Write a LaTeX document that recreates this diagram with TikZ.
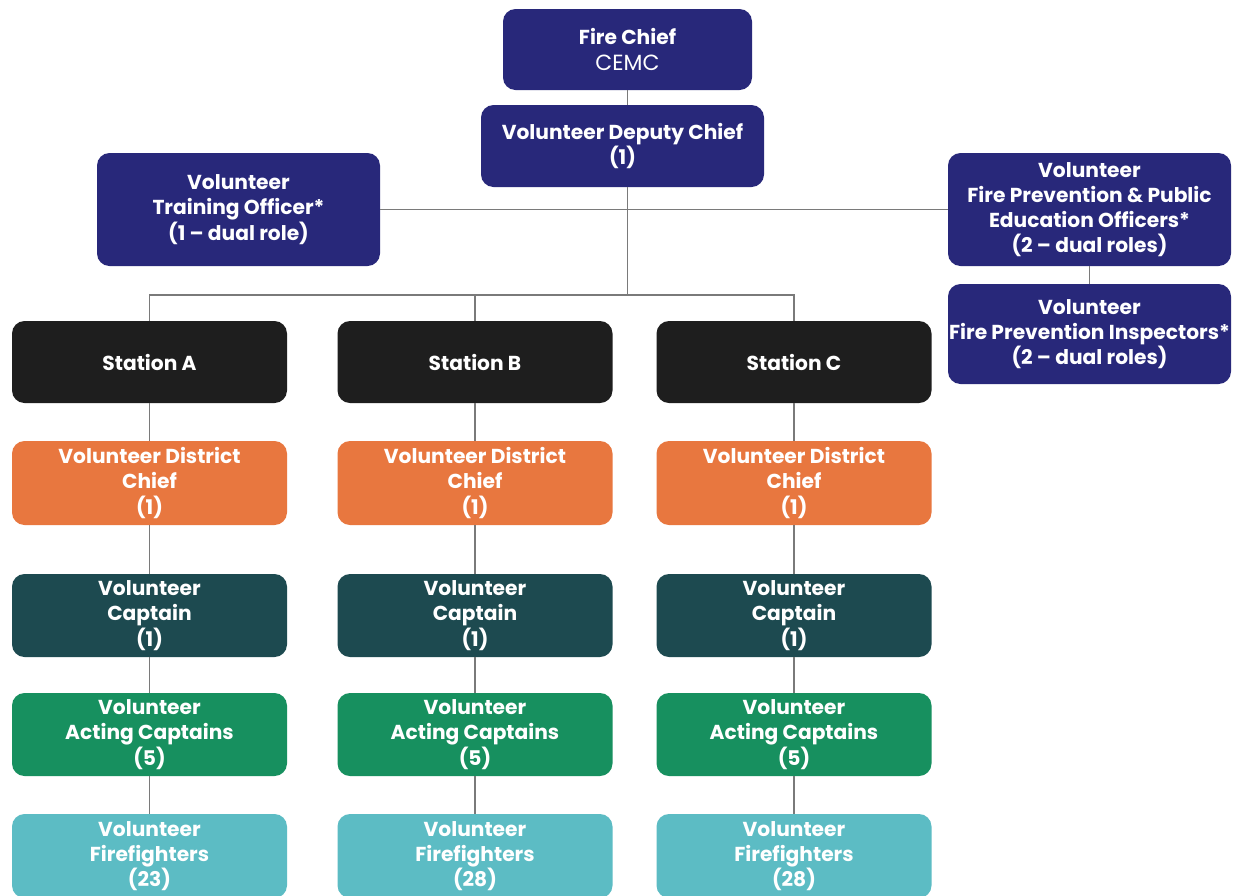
\documentclass[tikz,border=0pt]{standalone}
\usepackage{fontspec}
\setmainfont{Poppins}
\usetikzlibrary{positioning}
\definecolor{navy}{HTML}{28287A}
\definecolor{stationblack}{HTML}{1E1E1E}
\definecolor{districtorange}{HTML}{E8773F}
\definecolor{captainteal}{HTML}{1D4A50}
\definecolor{actinggreen}{HTML}{17905F}
\definecolor{fflightteal}{HTML}{5CBCC4}
\definecolor{linegray}{HTML}{7A7A7A}
\tikzset{
  rolebox/.style={rounded corners=0.25cm, text=white, align=center,
    font=\bfseries\fontsize{11.5}{14.3}\selectfont, inner sep=0pt},
  chiefbox/.style={rolebox, fill=navy, minimum width=5.66cm},
  stationbox/.style={rolebox, fill=stationblack, minimum width=5.5cm, minimum height=1.64cm},
  districtbox/.style={rolebox, fill=districtorange, minimum width=5.5cm, minimum height=1.68cm},
  captainbox/.style={rolebox, fill=captainteal, minimum width=5.5cm, minimum height=1.66cm},
  actingbox/.style={rolebox, fill=actinggreen, minimum width=5.5cm, minimum height=1.66cm},
  ffbox/.style={rolebox, fill=fflightteal, minimum width=5.5cm, minimum height=1.68cm},
  link/.style={draw=linegray, line width=0.6pt}
}
\begin{document}
\begin{tikzpicture}
\fill[white] (0,0) rectangle (24.84,-17.92);
\useasboundingbox (0,0) rectangle (24.84,-17.92);
% top of the chart
\node[chiefbox, minimum width=4.98cm, minimum height=1.62cm] (chief) at (12.55,-0.99) {Fire Chief\\{\mdseries\fontsize{12.5}{15}\selectfont CEMC}};
\node[chiefbox, minimum height=1.64cm] (deputy) at (12.45,-2.92) {Volunteer Deputy Chief\\(1)};
\node[chiefbox, minimum height=2.26cm] (train) at (4.77,-4.19) {Volunteer\\Training Officer*\\(1 -- dual role)};
\node[chiefbox, minimum height=2.26cm] (fppe) at (21.79,-4.19) {Volunteer\\Fire Prevention \& Public\\Education Officers*\\(2 -- dual roles)};
\node[chiefbox, minimum height=2.0cm] (insp) at (21.79,-6.68) {Volunteer\\Fire Prevention Inspectors*\\(2 -- dual roles)};
\coordinate (hub) at (12.55,-5.9);
% stations
\node[stationbox] (staA) at (2.99,-7.24) {Station A};
\node[stationbox] (staB) at (9.5,-7.24) {Station B};
\node[stationbox] (staC) at (15.88,-7.24) {Station C};
\node[districtbox] (distA) at (2.99,-9.66) {Volunteer District\\Chief\\(1)};
\node[districtbox] (distB) at (9.5,-9.66) {Volunteer District\\Chief\\(1)};
\node[districtbox] (distC) at (15.88,-9.66) {Volunteer District\\Chief\\(1)};
\node[captainbox] (captA) at (2.99,-12.31) {Volunteer\\Captain\\(1)};
\node[captainbox] (captB) at (9.5,-12.31) {Volunteer\\Captain\\(1)};
\node[captainbox] (captC) at (15.88,-12.31) {Volunteer\\Captain\\(1)};
\node[actingbox] (actA) at (2.99,-14.69) {Volunteer\\Acting Captains\\(5)};
\node[actingbox] (actB) at (9.5,-14.69) {Volunteer\\Acting Captains\\(5)};
\node[actingbox] (actC) at (15.88,-14.69) {Volunteer\\Acting Captains\\(5)};
\node[ffbox] (ffA) at (2.99,-17.12) {Volunteer\\Firefighters\\(23)};
\node[ffbox] (ffB) at (9.5,-17.12) {Volunteer\\Firefighters\\(28)};
\node[ffbox] (ffC) at (15.88,-17.12) {Volunteer\\Firefighters\\(28)};
% connectors
\draw[link] (chief.south) -- (chief.south |- deputy.north);
\draw[link] (chief.south |- deputy.south) -- (hub);
\draw[link] (train.east) -- (fppe.west);
\draw[link] (fppe.south) -- (insp.north);
\draw[link] (staA.north) |- (staC.north |- hub) -- (staC.north);
\draw[link] (staB.north) -- (staB.north |- hub);
\draw[link] (staA) -- (distA) -- (captA) -- (actA) -- (ffA);
\draw[link] (staB) -- (distB) -- (captB) -- (actB) -- (ffB);
\draw[link] (staC) -- (distC) -- (captC) -- (actC) -- (ffC);
\end{tikzpicture}
\end{document}
